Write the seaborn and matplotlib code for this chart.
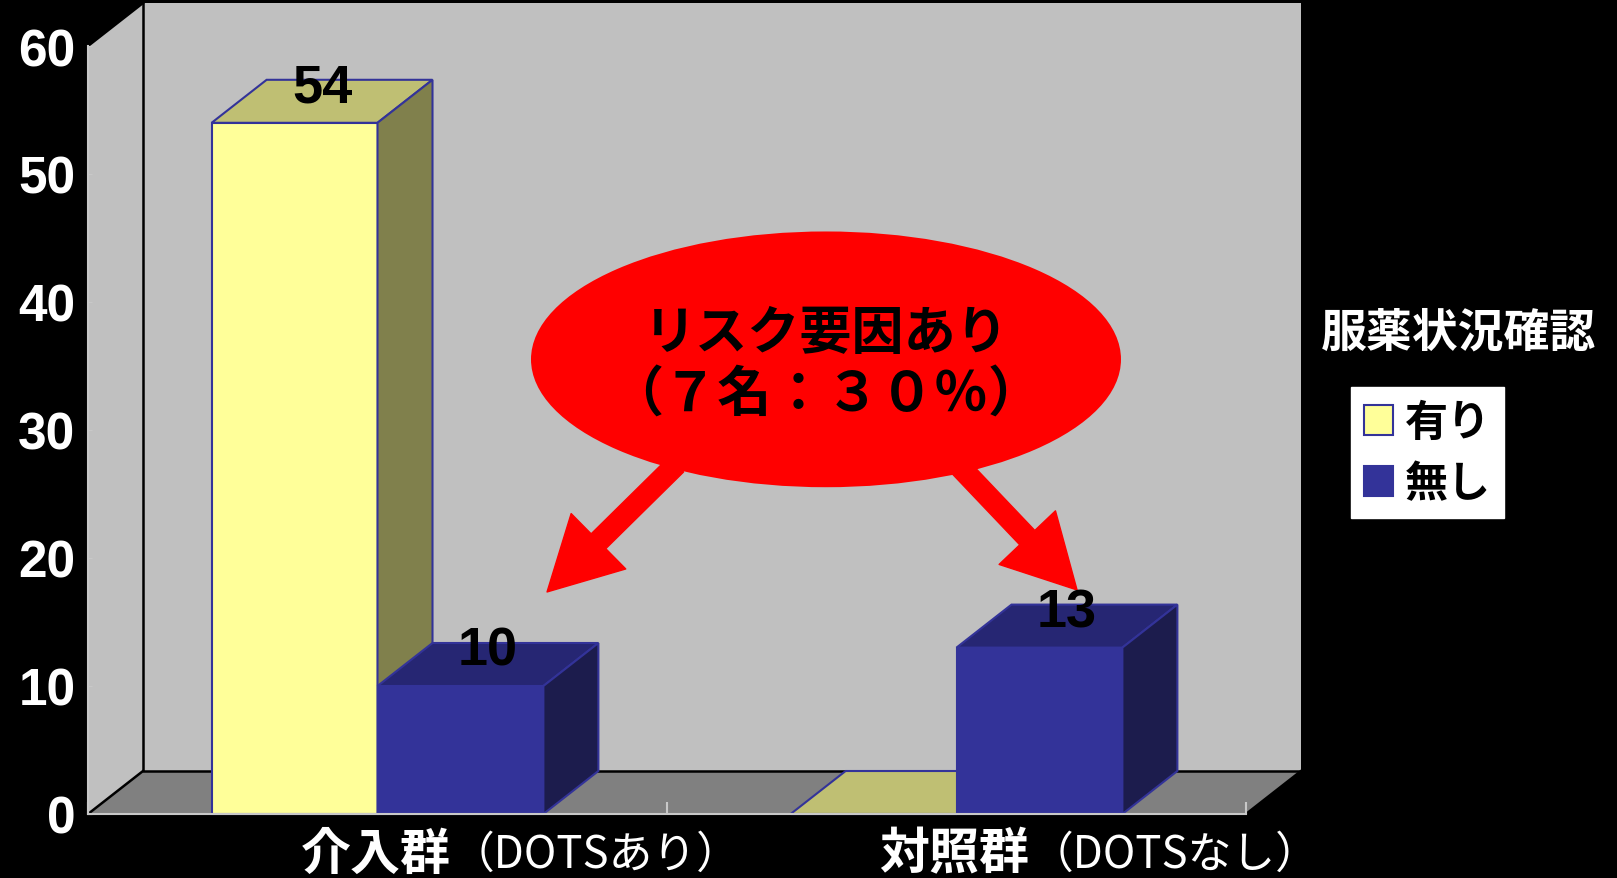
import matplotlib
matplotlib.use("Agg")
import matplotlib.pyplot as plt
import numpy as np
import pandas as pd
import seaborn as sns
from matplotlib.patches import Polygon, Ellipse, Patch
from matplotlib.lines import Line2D
from matplotlib.transforms import offset_copy, blended_transform_factory

# ---- data ----
groups = ["介入群", "対照群"]
group_notes = ["（DOTSあり）", "（DOTSなし）"]
status = ["有り", "無し"]
counts_yes = [54, 0]
counts_no = [10, 13]
y_ticks = [0, 10, 20, 30, 40, 50, 60]
legend_title = "服薬状況確認"
callout_lines = ["リスク要因あり", "（７名：３０％）"]

plt.rcParams["font.family"] = ["Liberation Sans", "Noto Sans CJK JP"]
JP = ["Noto Sans CJK JP", "DejaVu Sans"]

df = pd.DataFrame({
    "群": groups * 2,
    "服薬状況確認": [status[0]] * 2 + [status[1]] * 2,
    "人数": counts_yes + counts_no,
})

FRONT = {"有り": "#FFFF99", "無し": "#333399"}
TOP = {"有り": "#BFBF73", "無し": "#262673"}
SIDE = {"有り": "#80804C", "無し": "#1C1C4D"}
EDGE = "#333399"

W, H = 1617, 879
DX, DY = 55, 43  # depth offset of the 3-D box, in pixels

fig = plt.figure(figsize=(W / 100, H / 100), dpi=100, facecolor="black")
ax = fig.add_axes([88 / W, 1 - 815 / H, (1246 - 88) / W, (815 - 47) / H])
ax.set_facecolor("none")

sns.barplot(data=df, x="群", y="人数", hue="服薬状況確認", order=groups,
            hue_order=status, palette=FRONT, saturation=1, width=0.573,
            edgecolor=EDGE, linewidth=1.5, legend=False, ax=ax)
bars = sorted(ax.patches, key=lambda p: p.get_x())
bar_status = []
for p in bars:
    # front colour identifies the series
    fc = matplotlib.colors.to_hex(p.get_facecolor())
    bar_status.append("有り" if fc.lower() == FRONT["有り"].lower() else "無し")

ax.set_xlim(-0.5, len(groups) - 0.5)
ax.set_ylim(y_ticks[0], y_ticks[-1])
ax.set_xlabel("")
ax.set_ylabel("")


def back(x, y, f=1.0):
    """Data point pushed back into depth by fraction f of the box depth."""
    px, py = ax.transData.transform((x, y))
    return tuple(ax.transData.inverted().transform((px + f * DX, py + f * DY)))


x0, x1 = ax.get_xlim()
y0, y1 = ax.get_ylim()

# back wall, side wall and floor
ax.add_patch(Polygon([back(x0, y0), back(x1, y0), back(x1, y1), back(x0, y1)],
                     closed=True, facecolor="#C0C0C0", edgecolor="none",
                     zorder=0.2, clip_on=False))
ax.add_patch(Polygon([(x0, y0), (x0, y1), back(x0, y1), back(x0, y0)],
                     closed=True, facecolor="#C0C0C0", edgecolor="none",
                     zorder=0.2, clip_on=False))
ax.add_patch(Polygon([(x0, y0), (x1, y0), back(x1, y0), back(x0, y0)],
                     closed=True, facecolor="#808080", edgecolor="none",
                     zorder=0.3, clip_on=False))
for seg in ([back(x0, y1), back(x0, y0), back(x1, y0)],
            [(x0, y0), back(x0, y0)], [(x0, y1), back(x0, y1)],
            [(x1, y0), back(x1, y0)]):
    xs, ys = zip(*seg)
    ax.add_line(Line2D(xs, ys, color="black", lw=1.8, zorder=0.4, clip_on=False))

# 3-D column faces
for i, (p, st) in enumerate(zip(bars, bar_status)):
    bx, bw, bh = p.get_x(), p.get_width(), p.get_height()
    z = 2 + 0.1 * i
    p.set_zorder(z)
    p.set_clip_on(False)
    top = [(bx, bh), (bx + bw, bh), back(bx + bw, bh), back(bx, bh)]
    side = [(bx + bw, 0), (bx + bw, bh), back(bx + bw, bh), back(bx + bw, 0)]
    ax.add_patch(Polygon(top, closed=True, facecolor=TOP[st], edgecolor=EDGE,
                         lw=1.5, zorder=z, clip_on=False))
    if bh > 0:
        ax.add_patch(Polygon(side, closed=True, facecolor=SIDE[st],
                             edgecolor=EDGE, lw=1.5, zorder=z, clip_on=False))
        lx, ly = back(bx + bw / 2, bh, 0.5)
        ax.text(lx, ly, f"{bh:.0f}", ha="center", va="baseline", fontsize=39,
                fontweight="bold", color="black", zorder=10)

# axes styling
for s in ("top", "right"):
    ax.spines[s].set_visible(False)
for s in ("left", "bottom"):
    ax.spines[s].set_color("#C8C8C8")
    ax.spines[s].set_linewidth(1.5)
    ax.spines[s].set_zorder(5)
ax.set_yticks(y_ticks)
ax.set_yticklabels([str(v) for v in y_ticks])
ax.tick_params(axis="y", direction="in", length=3, color="#C8C8C8",
               labelcolor="white", labelsize=37, pad=9)
for lbl in ax.get_yticklabels():
    lbl.set_fontweight("bold")
ax.set_xticks(range(len(groups)))
ax.set_xticklabels([""] * len(groups))
ax.tick_params(axis="x", length=0)
ax.set_xticks(np.arange(x0, x1 + 0.01, 1.0), minor=True)
ax.tick_params(axis="x", which="minor", direction="in", length=9,
               color="#C8C8C8", width=1.5)

# category labels: bold group name + regular note
tr = offset_copy(blended_transform_factory(ax.transData, ax.transAxes),
                 fig=fig, x=73, y=-40, units="dots")
for i, (g, note) in enumerate(zip(groups, group_notes)):
    ax.text(i, 0, g, transform=tr, ha="right", va="center", family=JP,
            fontsize=36, fontweight="bold", color="white")
    ax.text(i, 0, note, transform=tr, ha="left", va="center", family=JP,
            fontsize=31.5, color="white")

# callout bubble with arrows
ax.add_patch(Ellipse((0.6373, 0.592), 0.5095, 0.333, transform=ax.transAxes,
                     facecolor="#FF0000", edgecolor="none", zorder=6,
                     clip_on=False))
for start, tip in (((0.508, 0.455), (0.3964, 0.2891)),
                   ((0.753, 0.452), (0.8541, 0.2917))):
    ax.annotate("", xy=tip, xytext=start, xycoords="axes fraction",
                textcoords="axes fraction", zorder=5.9,
                arrowprops=dict(arrowstyle="simple,head_length=2.6,head_width=2.8,tail_width=0.75",
                                mutation_scale=20, color="#FF0000",
                                shrinkA=0, shrinkB=0))
ax.text(0.6373, 0.6276, callout_lines[0], transform=ax.transAxes, ha="center",
        va="center", family=JP, fontsize=37.5, fontweight="bold", color="black",
        zorder=7)
ax.text(0.6373, 0.546, callout_lines[1], transform=ax.transAxes, ha="center",
        va="center", family=JP, fontsize=39, fontweight="bold", color="black",
        zorder=7)

# legend
fig.text(1458 / W, 1 - 334 / H, legend_title, ha="center", va="center",
         family=JP, fontsize=33, fontweight="bold", color="white")
handles = [Patch(facecolor=FRONT[s], edgecolor=EDGE, lw=1.5) for s in status]
leg = fig.legend(handles, status, loc="upper left",
                 bbox_to_anchor=(1351 / W, 1 - 388 / H), borderaxespad=0,
                 frameon=True, fancybox=False, facecolor="white",
                 edgecolor="white", framealpha=1,
                 prop={"family": JP, "weight": "bold", "size": 31},
                 handlelength=0.68, handleheight=0.68, handletextpad=0.28,
                 labelspacing=0.4, borderpad=0.3)

fig.savefig("out.png", dpi=100, facecolor="black")
